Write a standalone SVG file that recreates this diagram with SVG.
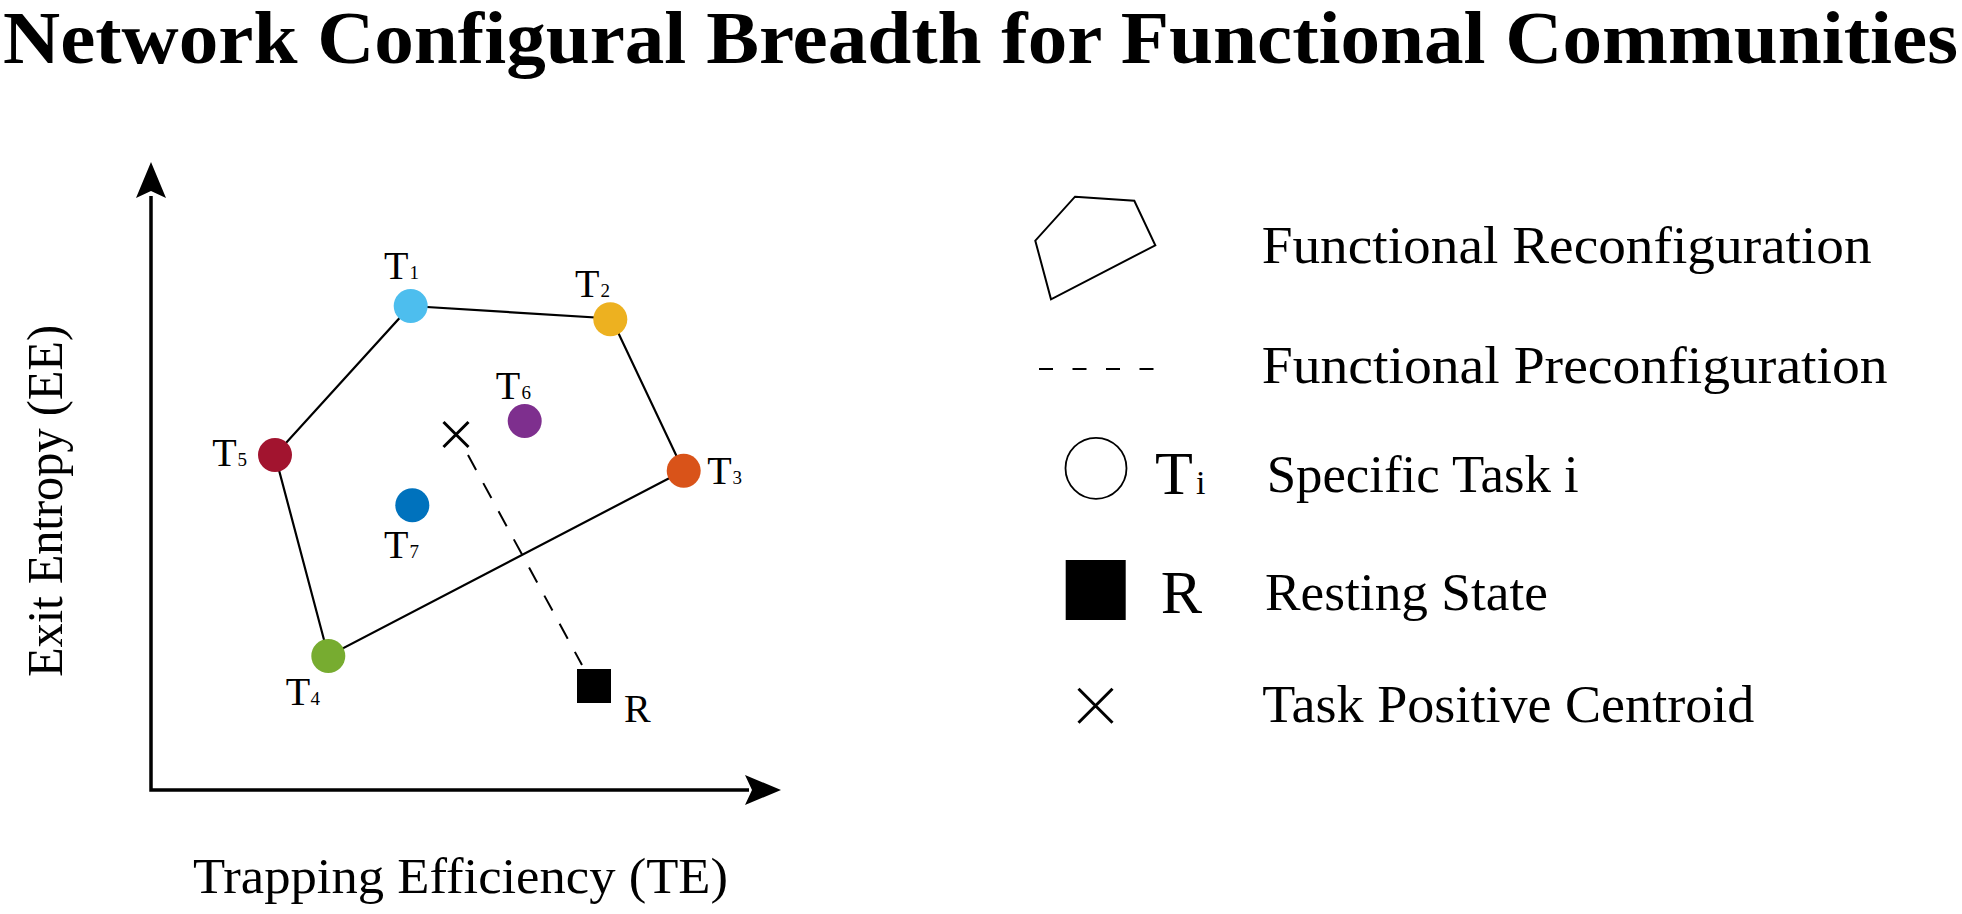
<svg xmlns="http://www.w3.org/2000/svg" width="1962" height="914" viewBox="0 0 1962 914">
  <style>
    text { font-family: "Liberation Serif", "Times New Roman", serif; fill: #000; }
    .title { font-size: 74px; font-weight: bold; }
    .axis-label { font-size: 50px; }
    .legend-text { font-size: 52px; }
    .node-label { font-size: 40px; }
    .sub { font-size: 19px; }
    .axis { fill: none; stroke: #000; stroke-width: 3.5; stroke-linejoin: miter; }
    .edge { fill: none; stroke: #000; stroke-width: 2.2; stroke-linejoin: miter; }
    .dash { fill: none; stroke: #000; stroke-width: 2; stroke-dasharray: 17 15; }
    .cross { fill: none; stroke: #000; stroke-width: 3; }
  </style>
  <rect width="1962" height="914" fill="#ffffff"/>

  <text class="title" x="3" y="63" textLength="1955" lengthAdjust="spacingAndGlyphs">Network Configural Breadth for Functional Communities</text>

  <g id="axes">
    <path class="axis" d="M151,196 L151,790 L749,790"/>
    <polygon points="151,162 166,198 151,191 136,198" fill="#000"/>
    <polygon points="781,790 745,775 752,790 745,805" fill="#000"/>
    <text class="axis-label" x="193" y="893" textLength="535" lengthAdjust="spacingAndGlyphs">Trapping Efficiency (TE)</text>
    <text class="axis-label" transform="translate(62,501) rotate(-90)" text-anchor="middle" textLength="352" lengthAdjust="spacingAndGlyphs">Exit Entropy (EE)</text>
  </g>

  <g id="connectors">
    <polygon class="edge" points="410.5,306 611.5,318.5 683.5,470.7 328.3,656 275,455"/>
    <line class="dash" x1="468" y1="455" x2="582" y2="665"/>
  </g>

  <g id="T1">
    <circle cx="410.7" cy="306" r="17" fill="#4DBEEE"/>
    <text class="node-label" x="384" y="279">T</text>
    <text class="sub" x="409.5" y="279">1</text>
  </g>
  <g id="T2">
    <circle cx="610.3" cy="319.3" r="17" fill="#EDB120"/>
    <text class="node-label" x="575" y="296.7">T</text>
    <text class="sub" x="600.5" y="296.7">2</text>
  </g>
  <g id="T3">
    <circle cx="683.7" cy="470.7" r="17" fill="#D95319"/>
    <text class="node-label" x="707.3" y="484">T</text>
    <text class="sub" x="732.5" y="484">3</text>
  </g>
  <g id="T4">
    <circle cx="328.3" cy="656" r="17" fill="#77AC30"/>
    <text class="node-label" x="285.7" y="705">T</text>
    <text class="sub" x="310.5" y="705">4</text>
  </g>
  <g id="T5">
    <circle cx="275" cy="455" r="17" fill="#A2142F"/>
    <text class="node-label" x="212.3" y="466">T</text>
    <text class="sub" x="237.5" y="466">5</text>
  </g>
  <g id="T6">
    <circle cx="524.7" cy="421" r="17" fill="#7E2F8E"/>
    <text class="node-label" x="495.7" y="399.3">T</text>
    <text class="sub" x="521.5" y="399.3">6</text>
  </g>
  <g id="T7">
    <circle cx="412.3" cy="505.3" r="17" fill="#0072BD"/>
    <text class="node-label" x="384" y="558.3">T</text>
    <text class="sub" x="409.5" y="558.3">7</text>
  </g>
  <g id="centroid">
    <path class="cross" d="M443.5,422 L468.5,447 M468.5,422 L443.5,447"/>
  </g>
  <g id="R">
    <rect x="577" y="669" width="34" height="34" fill="#000"/>
    <text class="node-label" x="624" y="721.7">R</text>
  </g>

  <g id="legend">
    <g id="legend-reconfig">
      <polygon points="1075,196.7 1134.3,200.7 1155.3,245.3 1051,299.3 1035.3,240.7" fill="none" stroke="#000" stroke-width="2"/>
      <text class="legend-text" x="1261.7" y="263.3" textLength="610" lengthAdjust="spacingAndGlyphs">Functional Reconfiguration</text>
    </g>
    <g id="legend-preconfig">
      <line x1="1039" y1="369" x2="1156" y2="369" stroke="#000" stroke-width="1.8" stroke-dasharray="14 19.5"/>
      <text class="legend-text" x="1261.7" y="383.3" textLength="626" lengthAdjust="spacingAndGlyphs">Functional Preconfiguration</text>
    </g>
    <g id="legend-task">
      <circle cx="1096" cy="468.3" r="30.5" fill="#fff" stroke="#000" stroke-width="1.8"/>
      <text x="1155" y="494" style="font-size:62px">T</text>
      <text x="1196" y="494" style="font-size:34px">i</text>
      <text class="legend-text" x="1266.7" y="492" textLength="312" lengthAdjust="spacingAndGlyphs">Specific Task i</text>
    </g>
    <g id="legend-rest">
      <rect x="1065.7" y="560" width="60" height="60" fill="#000"/>
      <text x="1160.7" y="613.3" style="font-size:62px">R</text>
      <text class="legend-text" x="1265" y="610" textLength="283" lengthAdjust="spacingAndGlyphs">Resting State</text>
    </g>
    <g id="legend-centroid">
      <path class="cross" d="M1078.5,688.8 L1112.5,722.8 M1112.5,688.8 L1078.5,722.8"/>
      <text class="legend-text" x="1262.3" y="721.7" textLength="492" lengthAdjust="spacingAndGlyphs">Task Positive Centroid</text>
    </g>
  </g>
</svg>
